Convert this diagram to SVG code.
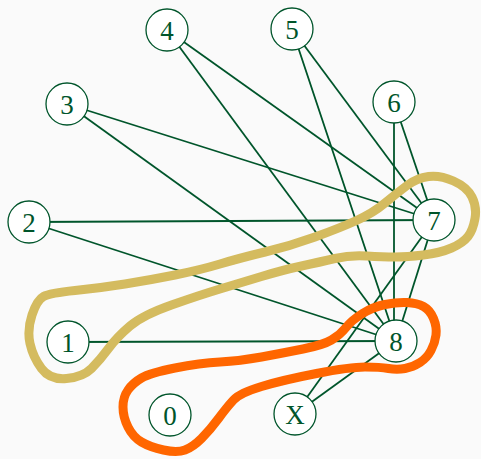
<svg xmlns="http://www.w3.org/2000/svg" width="481" height="459" viewBox="0 0 481 459">
<style>
.e{stroke:#00552b;stroke-width:1.8;fill:none}
.n circle{fill:#fff;stroke:#00552b;stroke-width:1.3}
.n text{font-family:"Liberation Serif","DejaVu Serif",serif;font-size:27px;fill:#00552b;text-anchor:middle;dominant-baseline:central}
.hull{fill:none;stroke-width:9;stroke-linejoin:round}
</style>
<rect width="481" height="459" fill="#fafafa"/>
<g id="connectors">
<line class="e" x1="167" y1="30" x2="434" y2="220"/>
<line class="e" x1="167" y1="30" x2="396" y2="341"/>
<line class="e" x1="292" y1="29" x2="434" y2="220"/>
<line class="e" x1="292" y1="29" x2="396" y2="341"/>
<line class="e" x1="67" y1="104" x2="434" y2="220"/>
<line class="e" x1="67" y1="104" x2="396" y2="341"/>
<line class="e" x1="394" y1="102" x2="434" y2="220"/>
<line class="e" x1="394" y1="102" x2="394" y2="341"/>
<line class="e" x1="29" y1="222" x2="434" y2="220"/>
<line class="e" x1="29" y1="222" x2="396" y2="341"/>
<line class="e" x1="68" y1="342" x2="396" y2="341"/>
<line class="e" x1="434" y1="220" x2="396" y2="341"/>
<line class="e" x1="434" y1="220" x2="295" y2="414"/>
<line class="e" x1="396" y1="341" x2="295" y2="414"/>
</g>
<g id="hull-yellow">
<path class="hull" stroke="#d4bb5f" d="M265,252 Q290,246 315,237 Q340,228 356.5,220.5 Q373,213 385,203 Q397,193 407,185.5 Q417,178 428.5,176.5 Q440,175 453.5,181 Q467,187 472,197 Q477,207 475,218.5 Q473,230 468,236.5 Q463,243 451.5,248 Q440,253 423.5,255 Q407,257 395,257 Q383,257 366.5,256 Q350,255 335,258.5 Q320,262 301.5,266 Q283,270 261.5,276.5 Q240,283 220,289 Q200,295 171.5,305 Q143,315 130,326 Q117,337 108.5,348.5 Q100,360 91.5,368.5 Q83,377 66.5,378.5 Q50,380 41.5,368.5 Q33,357 30,343.5 Q27,330 32,315 Q37,300 43.5,296.5 Q50,293 75,290.5 Q100,288 125,284 Q150,280 175,275 Q200,270 220,264 Q240,258 265,252 Z"/>
</g>
<g id="hull-orange">
<path class="hull" stroke="#ff6600" d="M261.5,357 Q283,353 303,349 Q323,345 331.5,340 Q340,335 346,327.5 Q352,320 362.5,313.5 Q373,307 385,304.5 Q397,302 407,302.5 Q417,303 423.5,306.5 Q430,310 433.5,318.5 Q437,327 436,335 Q435,343 431,350.5 Q427,358 420,362.5 Q413,367 405,368.5 Q397,370 388.5,368.5 Q380,367 365,367 Q350,367 316.5,373.5 Q283,380 261.5,386.5 Q240,393 233.5,400 Q227,407 218.5,418.5 Q210,430 201.5,438.5 Q193,447 185,450 Q177,453 163.5,450 Q150,447 141.5,442 Q133,437 128,427 Q123,417 123,407 Q123,397 128,390 Q133,383 141.5,378 Q150,373 175,368 Q200,363 220,362 Q240,361 261.5,357 Z"/>
</g>
<g id="node-4" class="n"><circle cx="167" cy="30" r="21"/><text x="167" y="31">4</text></g>
<g id="node-5" class="n"><circle cx="292" cy="29" r="21"/><text x="292" y="30">5</text></g>
<g id="node-3" class="n"><circle cx="67" cy="104" r="21"/><text x="67" y="105">3</text></g>
<g id="node-6" class="n"><circle cx="394" cy="102" r="21"/><text x="394" y="103">6</text></g>
<g id="node-2" class="n"><circle cx="29" cy="222" r="21"/><text x="29" y="223">2</text></g>
<g id="node-7" class="n"><circle cx="434" cy="220" r="21"/><text x="434" y="221">7</text></g>
<g id="node-1" class="n"><circle cx="68" cy="342" r="21"/><text x="68" y="343">1</text></g>
<g id="node-8" class="n"><circle cx="396" cy="341" r="21"/><text x="396" y="342">8</text></g>
<g id="node-0" class="n"><circle cx="170" cy="415" r="21"/><text x="170" y="416">0</text></g>
<g id="node-X" class="n"><circle cx="295" cy="414" r="21"/><text x="295" y="415">X</text></g>
</svg>
